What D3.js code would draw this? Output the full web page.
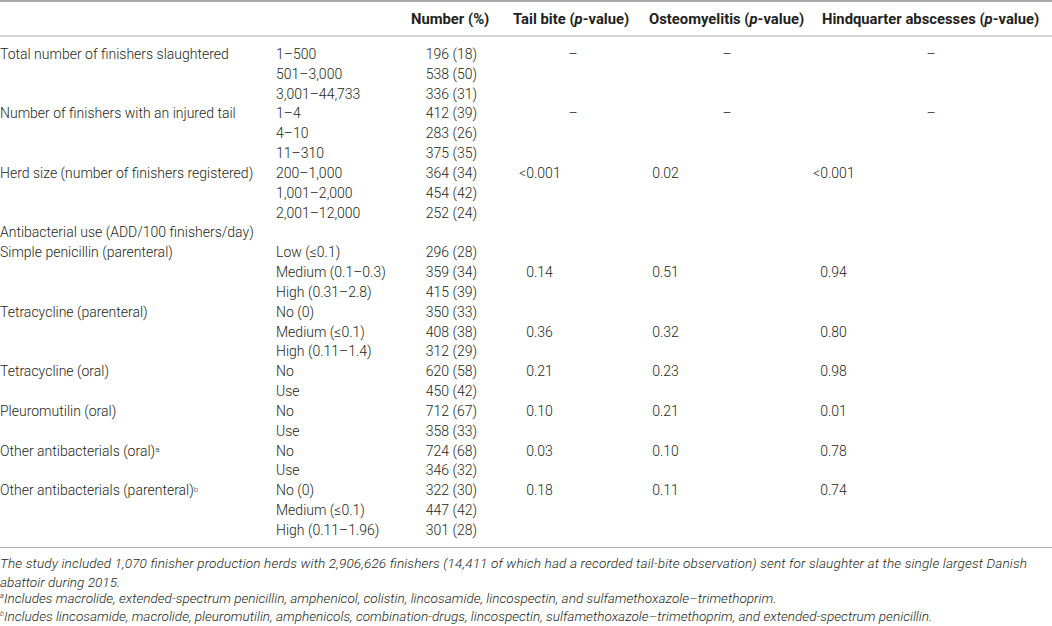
<!DOCTYPE html>
<html>
<head>
<meta charset="utf-8">
<script src="https://cdn.jsdelivr.net/npm/d3@7"></script>
<style>
  body { margin: 0; background: #fff; }
  svg text { font-family: Roboto, "Liberation Sans", sans-serif; fill: #231f20; }
  .body { font-size: 14px; font-weight: 300; }
  .head { font-size: 14.8px; font-weight: 700; }
  .note { font-size: 13.6px; font-weight: 300; font-style: italic; }
</style>
</head>
<body>
<svg id="tbl" width="1052" height="626"></svg>
<script>
// table content
var headers = ["Number (%)", "Tail bite (", "Osteomyelitis (", "Hindquarter abscesses ("];
var groups = [
	"Total number of finishers slaughtered",
	"Number of finishers with an injured tail",
	"Herd size (number of finishers registered)",
	"Antibacterial use (ADD/100 finishers/day)",
	"Simple penicillin (parenteral)",
	"Tetracycline (parenteral)",
	"Tetracycline (oral)",
	"Pleuromutilin (oral)",
	"Other antibacterials (oral)",
	"Other antibacterials (parenteral)"
];
var groupSup = ["", "", "", "", "", "", "", "", "a", "b"];
var levels = [
	["1–500", "501–3,000", "3,001–44,733"],
	["1–4", "4–10", "11–310"],
	["200–1,000", "1,001–2,000", "2,001–12,000"],
	[],
	["Low (≤0.1)", "Medium (0.1–0.3)", "High (0.31–2.8)"],
	["No (0)", "Medium (≤0.1)", "High (0.11–1.4)"],
	["No", "Use"],
	["No", "Use"],
	["No", "Use"],
	["No (0)", "Medium (≤0.1)", "High (0.11–1.96)"]
];
var counts = [
	[196, 538, 336], [412, 283, 375], [364, 454, 252], [],
	[296, 359, 415], [350, 408, 312], [620, 450], [712, 358], [724, 346], [322, 447, 301]
];
var percents = [
	[18, 50, 31], [39, 26, 35], [34, 42, 24], [],
	[28, 34, 39], [33, 38, 29], [58, 42], [67, 33], [68, 32], [30, 42, 28]
];
// which level row of the group carries the p-values
var pRow = [0, 0, 0, null, 1, 1, 0, 0, 0, 0];
var tailBite      = ["–", "–", "<0.001", null, "0.14", "0.36", "0.21", "0.10", "0.03", "0.18"];
var osteomyelitis = ["–", "–", "0.02", null, "0.51", "0.32", "0.23", "0.21", "0.10", "0.11"];
var hindquarter   = ["–", "–", "<0.001", null, "0.94", "0.80", "0.98", "0.01", "0.78", "0.74"];
var notes = [
	{sup: "", text: "The study included 1,070 finisher production herds with 2,906,626 finishers (14,411 of which had a recorded tail-bite observation) sent for slaughter at the single largest Danish", justify: true},
	{sup: "", text: "abattoir during 2015."},
	{sup: "a", text: "Includes macrolide, extended-spectrum penicillin, amphenicol, colistin, lincosamide, lincospectin, and sulfamethoxazole–trimethoprim."},
	{sup: "b", text: "Includes lincosamide, macrolide, pleuromutilin, amphenicols, combination-drugs, lincospectin, sulfamethoxazole–trimethoprim, and extended-spectrum penicillin."}
];

(function () {
	var svg = d3.select("#tbl");

	// flatten groups into table rows
	var rows = [];
	groups.forEach(function (g, i) {
		var n = Math.max(1, levels[i].length);
		for (var k = 0; k < n; k++) {
			rows.push({
				group: k === 0 ? g : "",
				sup: k === 0 ? groupSup[i] : "",
				level: levels[i][k] || "",
				num: counts[i][k] != null ? counts[i][k] + " (" + percents[i][k] + ")" : "",
				p: pRow[i] === k ? [tailBite[i], osteomyelitis[i], hindquarter[i]] : null
			});
		}
	});

	var y = d3.scalePoint()
		.domain(d3.range(rows.length))
		.range([54, 530]);

	var colX = {label: 0, level: 276, num: 477};
	var pDec = [534, 660, 828];   // decimal point position of each p-value column
	var pMid = [573, 727, 931];   // centre of each p-value column (for dashes)
	var headX = [411, 513, 649, 822];

	// rules
	var rules = [{y: 1, w: 2}, {y: 36, w: 1.2}, {y: 547.5, w: 1.2}];
	svg.selectAll(".rule")
		.data(rules)
		.enter().append("line")
		.attr("class", "rule")
		.attr("x1", 0).attr("x2", 1052)
		.attr("y1", function (d) { return d.y; })
		.attr("y2", function (d) { return d.y; })
		.attr("stroke", "#a7a9ac")
		.attr("stroke-width", function (d) { return d.w; });

	// headers
	var h = svg.selectAll(".head")
		.data(headers)
		.enter().append("text")
		.attr("class", "head")
		.attr("x", function (d, i) { return headX[i]; })
		.attr("y", 19)
		.attr("dy", "0.35em");
	h.append("tspan").text(function (d) { return d; });
	h.filter(function (d, i) { return i > 0; })
		.each(function () {
			var t = d3.select(this);
			t.append("tspan").style("font-style", "italic").text("p");
			t.append("tspan").text("-value)");
		});

	// body rows
	var r = svg.selectAll(".row")
		.data(rows)
		.enter().append("g")
		.attr("class", "row body")
		.attr("transform", function (d, i) { return "translate(0," + y(i) + ")"; });

	var lab = r.append("text")
		.attr("x", colX.label)
		.attr("dy", "0.35em");
	lab.append("tspan").text(function (d) { return d.group; });
	lab.append("tspan")
		.attr("dy", "-0.45em")
		.style("font-size", "8px")
		.text(function (d) { return d.sup; });

	r.append("text")
		.attr("x", colX.level)
		.attr("dy", "0.35em")
		.text(function (d) { return d.level; });

	r.append("text")
		.attr("x", colX.num)
		.attr("dy", "0.35em")
		.attr("text-anchor", "end")
		.text(function (d) { return d.num; });

	// p-values: dashes centred, numbers aligned on the decimal point
	r.filter(function (d) { return d.p; }).each(function (d) {
		var g = d3.select(this);
		d.p.forEach(function (v, j) {
			var dot = v.indexOf(".");
			if (dot < 0) {
				g.append("text").attr("x", pMid[j]).attr("dy", "0.35em")
					.attr("text-anchor", "middle").text(v);
			} else {
				g.append("text").attr("x", pDec[j]).attr("dy", "0.35em")
					.attr("text-anchor", "end").text(v.slice(0, dot));
				g.append("text").attr("x", pDec[j]).attr("dy", "0.35em")
					.text(v.slice(dot));
			}
		});
	});

	// footnotes
	var nt = svg.selectAll(".note")
		.data(notes)
		.enter().append("text")
		.attr("class", "note")
		.attr("x", 0)
		.attr("y", function (d, i) { return [563, 582, 601, 619][i]; })
		.attr("dy", "0.35em");
	nt.append("tspan")
		.attr("dy", "-0.4em")
		.style("font-size", "7.5px")
		.text(function (d) { return d.sup; });
	nt.append("tspan")
		.attr("dy", function (d) { return d.sup ? "0.4em" : null; })
		.text(function (d) { return d.text; });
	// first line of the note is justified to the table width
	nt.filter(function (d) { return d.justify; })
		.attr("textLength", 1027)
		.attr("lengthAdjust", "spacing");
}) ();
</script>
</body>
</html>
